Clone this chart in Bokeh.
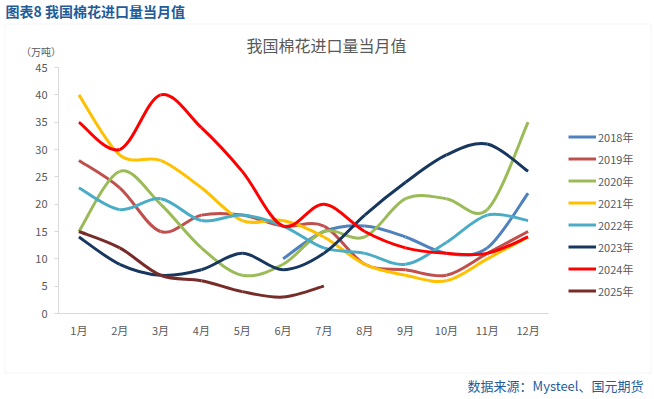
from bokeh.plotting import figure
from bokeh.models import Range1d, FixedTicker, Label, BoxAnnotation, Legend, LegendItem, ColumnDataSource
from bokeh.embed import file_html
from bokeh.resources import INLINE

months = ["1月", "2月", "3月", "4月", "5月", "6月", "7月", "8月", "9月", "10月", "11月", "12月"]
month_x = [1, 2, 3, 4, 5, 6, 7, 8, 9, 10, 11, 12]
years = ["2018年", "2019年", "2020年", "2021年", "2022年", "2023年", "2024年", "2025年"]
y_ticks = [0, 5, 10, 15, 20, 25, 30, 35, 40, 45]

s2018 = [None, None, None, None, None, 10, 15, 16, 14, 11, 12, 22]
s2019 = [28, 23, 15, 18, 18, 16, 16, 9, 8, 7, 11, 15]
s2020 = [15, 26, 20, 12, 7, 9, 15, 14, 21, 21, 19, 35]
s2021 = [40, 29, 28, 23, 17, 17, 14, 9, 7, 6, 10, 14]
s2022 = [23, 19, 21, 17, 18, 16, 12, 11, 9, 13, 18, 17]
s2023 = [14, 9, 7, 8, 11, 8, 11, 18, 24, 29, 31, 26]
s2024 = [35, 30, 40, 34, 26, 16, 20, 15, 12, 11, 11, 14]
s2025 = [15, 12, 7, 6, 4, 3, 5, None, None, None, None, None]
series = [s2018, s2019, s2020, s2021, s2022, s2023, s2024, s2025]

colors = ["#4F81BD", "#C0504D", "#9BBB59", "#FFC000", "#4BACC6", "#17375E", "#FF0000", "#772C2A"]

FONT = "Noto Sans CJK SC"

W, H = 654, 399
# plot-area placement inside the canvas (pixels)
FL, FR, FT, FB = 58, 548, 67, 313
X0, X1 = 0.5, 12.5
Y0, Y1 = 0.0, 45.0
kx = (FR - FL) / (X1 - X0)
ky = (FB - FT) / (Y1 - Y0)


def smooth_segments(xs, ys):
    pts = [(x, y) for x, y in zip(xs, ys) if y is not None]
    n = len(pts)
    d = dict(x0=[], y0=[], x1=[], y1=[], cx0=[], cy0=[], cx1=[], cy1=[])
    for i in range(n - 1):
        p0 = pts[i - 1] if i > 0 else pts[i]
        p1 = pts[i]
        p2 = pts[i + 1]
        p3 = pts[i + 2] if i + 2 < n else pts[i + 1]
        d["x0"].append(p1[0]); d["y0"].append(p1[1])
        d["x1"].append(p2[0]); d["y1"].append(p2[1])
        d["cx0"].append(p1[0] + (p2[0] - p0[0]) / 6.0)
        d["cy0"].append(p1[1] + (p2[1] - p0[1]) / 6.0)
        d["cx1"].append(p2[0] - (p3[0] - p1[0]) / 6.0)
        d["cy1"].append(p2[1] - (p3[1] - p1[1]) / 6.0)
    return d


p = figure(width=W, height=H, output_backend="svg", toolbar_location=None,
           x_range=Range1d(X0 - FL / kx, X1 + (W - FR) / kx),
           y_range=Range1d(Y0 - (H - FB) / ky, Y1 + FT / ky),
           min_border=0, min_border_left=0, min_border_right=0,
           min_border_top=0, min_border_bottom=0)
p.outline_line_color = None
p.background_fill_color = "white"
p.border_fill_color = "white"
p.xgrid.grid_line_color = None
p.ygrid.grid_line_color = None

p.xaxis.fixed_location = Y0
p.xaxis.bounds = (X0, X1)
p.xaxis.ticker = FixedTicker(ticks=month_x)
p.xaxis.major_label_overrides = {x: m for x, m in zip(month_x, months)}
p.xaxis.axis_line_color = "#D9D9D9"
p.xaxis.major_tick_line_color = None
p.xaxis.major_tick_out = 0
p.xaxis.major_tick_in = 0
p.xaxis.minor_tick_line_color = None
p.xaxis.major_label_standoff = 8
p.xaxis.major_label_text_font = FONT
p.xaxis.major_label_text_font_size = "11px"
p.xaxis.major_label_text_color = "#595959"

p.yaxis.fixed_location = X0
p.yaxis.bounds = (Y0, Y1)
p.yaxis.ticker = FixedTicker(ticks=y_ticks)
p.yaxis.axis_line_color = "#D9D9D9"
p.yaxis.major_tick_line_color = "#D9D9D9"
p.yaxis.major_tick_out = 4
p.yaxis.major_tick_in = 0
p.yaxis.minor_tick_line_color = None
p.yaxis.major_label_standoff = 7
p.yaxis.major_label_text_font = FONT
p.yaxis.major_label_text_font_size = "11px"
p.yaxis.major_label_text_color = "#595959"

items = []
for name, s, c in zip(years, series, colors):
    src = ColumnDataSource(smooth_segments(month_x, s))
    r = p.bezier(x0="x0", y0="y0", x1="x1", y1="y1", cx0="cx0", cy0="cy0", cx1="cx1", cy1="cy1",
                 source=src, line_color=c, line_width=3)
    items.append(LegendItem(label=name, renderers=[r]))

legend = Legend(items=items, location=(568, 100), padding=0, margin=0, spacing=5,
                glyph_width=28, glyph_height=17, label_height=17, label_standoff=2,
                border_line_color=None, background_fill_alpha=0,
                label_text_font=FONT, label_text_font_size="11px", label_text_color="#595959")
p.add_layout(legend, "center")

p.add_layout(BoxAnnotation(left=4.5, right=650.5, top=23.5, bottom=372.5,
                           left_units="canvas", right_units="canvas",
                           top_units="canvas", bottom_units="canvas",
                           fill_color=None, fill_alpha=0, line_color="#D9D9D9", line_width=1,
                           level="underlay"))

p.add_layout(Label(x=326, y=44, x_units="canvas", y_units="canvas", text="我国棉花进口量当月值",
                   text_font=FONT, text_font_size="16px", text_color="#595959",
                   text_align="center", text_baseline="middle"))
p.add_layout(Label(x=40.5, y=51, x_units="canvas", y_units="canvas", text="（万吨）",
                   text_font=FONT, text_font_size="10px", text_color="#595959",
                   text_align="center", text_baseline="middle"))
p.add_layout(Label(x=5, y=10, x_units="canvas", y_units="canvas", text="图表8 我国棉花进口量当月值",
                   text_font=FONT, text_font_size="14px", text_font_style="bold", text_color="#1F5C99",
                   text_align="left", text_baseline="middle"))
p.add_layout(Label(x=643, y=385, x_units="canvas", y_units="canvas", text="数据来源：Mysteel、国元期货",
                   text_font=FONT, text_font_size="13px", text_color="#1F5C99",
                   text_align="right", text_baseline="middle"))

open("out.html", "w").write(file_html(p, INLINE))
